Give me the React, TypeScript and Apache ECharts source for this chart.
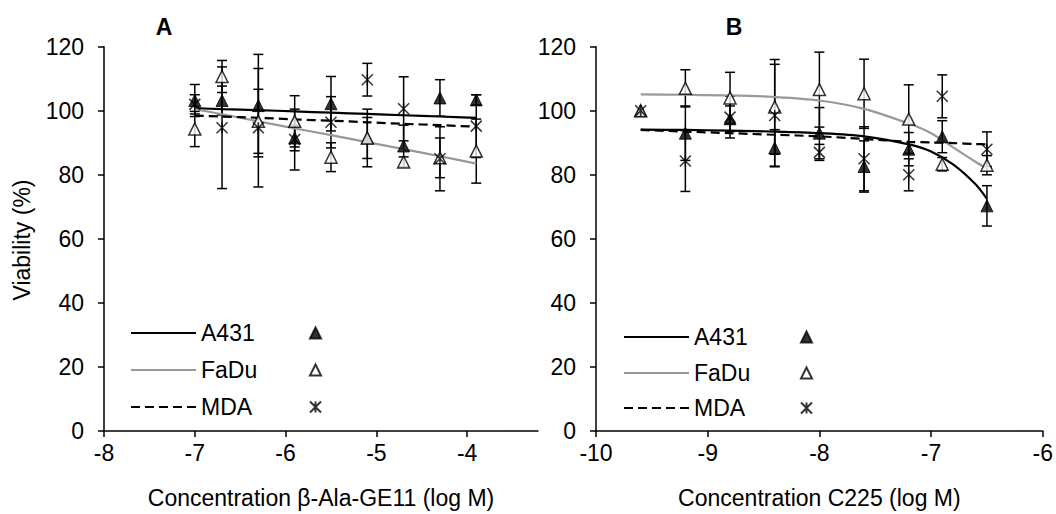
import React, { useEffect, useRef } from "react";
import * as echarts from "echarts";

const FONT = 'Arial, "Liberation Sans", Helvetica, sans-serif';

// Panel A: beta-Ala-GE11
const xA = [-7, -6.7, -6.3, -5.9, -5.5, -5.1, -4.7, -4.3, -3.9];
const a431A = [103.2, 103.2, 101.6, 91.5, 102.2, 91.5, 89, 104, 103.4];
const a431AErr = [5, 4.5, 16, 4, 8.5, 6.4, 6.5, 5.7, 1.6];
const fadA = [94.3, 110.7, 96.7, 96.7, 85.5, 91.5, 84, 85.3, 87.4];
const fadAErr = [5.5, 5, 10, 8, 4.5, 9, 1.6, 6.2, 10];
const mdaA = [102, 94.7, 94.7, 91, 96.4, 109.7, 100.6, 85, 95.2];
const mdaAErr = [3, 19, 18.5, 9.5, 8, 5.1, 10, 10, 9.8];
const fitXA = [-7, -6.7, -6.3, -5.9, -5.5, -5.1, -4.7, -4.3, -3.9];
const fitA431A = [100.8, 100.5, 100.2, 99.8, 99.4, 99.0, 98.6, 98.2, 97.8];
const fitFadA = [100.5, 98.9, 96.7, 94.5, 92.4, 90.2, 88.0, 85.8, 83.5];
const fitMdaA = [98.5, 98.2, 97.8, 97.3, 96.9, 96.4, 95.9, 95.5, 95.0];

// Panel B: C225
const xB = [-9.6, -9.2, -8.8, -8.4, -8.0, -7.6, -7.2, -6.9, -6.5];
const a431B = [100, 93, 97.5, 88.4, 93, 82.6, 88, 91.9, 70.3];
const a431BErr = [0, 8.5, 4, 5.7, 8, 8, 5.2, 5, 6.3];
const fadB = [100, 107, 104, 101.2, 106.6, 105.3, 97.4, 83.3, 83];
const fadBErr = [0, 5.8, 8, 14.8, 11.7, 10.8, 10.7, 2.1, 3];
const mdaB = [100, 84.3, 98, 98.5, 87, 85, 80, 104.5, 88];
const mdaBErr = [0, 9.5, 6.5, 16, 2.5, 10, 5, 6.7, 5.4];
const fitXB = [-9.6, -9.2, -8.8, -8.4, -8.0, -7.6, -7.2, -7.0, -6.8, -6.6, -6.5];
const fitA431B = [94.1, 94.0, 93.8, 93.5, 93.0, 92.0, 89.5, 87.3, 83.2, 77.0, 72.5];
const fitFadB = [105.1, 105.0, 104.8, 104.3, 103.2, 100.6, 96.0, 93.0, 88.5, 84.0, 82.0];
const fitMdaB = [94.0, 93.5, 93.0, 92.5, 92.0, 91.2, 90.3, 90.1, 89.9, 89.6, 89.5];

const ticksA = [-8, -7, -6, -5, -4];
const ticksB = [-10, -9, -8, -7, -6];
const yTicks = [0, 20, 40, 60, 80, 100, 120];

const names = ["A431", "FaDu", "MDA"];
const markerNames = ["A431 data", "FaDu data", "MDA data"];
const titleA = "Concentration β-Ala-GE11 (log M)";
const titleB = "Concentration C225 (log M)";
const yTitle = "Viability (%)";

const GRAY = "#999999";
const STAR = "path://M0,0L10,10M10,0L0,10M5,0L5,10";

const zip = (xs: number[], ys: number[]) => xs.map((x, i) => [x, ys[i]]);
const zip3 = (xs: number[], ys: number[], es: number[]) => xs.map((x, i) => [x, ys[i], es[i]]);

function errSeries(data: number[][], axis: number) {
  return {
    type: "custom",
    xAxisIndex: axis,
    yAxisIndex: axis,
    z: 2,
    silent: true,
    encode: { x: 0, y: 1 },
    data,
    renderItem: (params: any, api: any) => {
      const x = api.value(0);
      const y = api.value(1);
      const e = api.value(2);
      if (!e) return { type: "group", children: [] };
      const top = api.coord([x, y + e]);
      const bot = api.coord([x, y - e]);
      const hw = 5;
      const st = { stroke: "#000", lineWidth: 1.5 };
      return {
        type: "group",
        children: [
          { type: "line", shape: { x1: top[0], y1: top[1], x2: bot[0], y2: bot[1] }, style: st },
          { type: "line", shape: { x1: top[0] - hw, y1: top[1], x2: top[0] + hw, y2: top[1] }, style: st },
          { type: "line", shape: { x1: bot[0] - hw, y1: bot[1], x2: bot[0] + hw, y2: bot[1] }, style: st },
        ],
      };
    },
  };
}

const lineStyles = [
  { color: "#000", width: 2.2, type: "solid" },
  { color: GRAY, width: 2.2, type: "solid" },
  { color: "#000", width: 2.2, type: [9, 5] },
];

function fitSeries(i: number, data: number[][], axis: number) {
  const ls = lineStyles[i];
  return {
    type: "line",
    name: names[i],
    xAxisIndex: axis,
    yAxisIndex: axis,
    z: 3,
    smooth: 0.3,
    symbol: "none",
    showSymbol: false,
    data,
    itemStyle: { color: ls.color },
    lineStyle: { color: ls.color, width: ls.width, type: ls.type },
  };
}

const markerStyles = [
  { symbol: "triangle", size: 12, itemStyle: { color: "#000", borderColor: "#000", borderWidth: 1 } },
  { symbol: "triangle", size: 12, itemStyle: { color: "#fff", borderColor: "#000", borderWidth: 1.5 } },
  { symbol: STAR, size: 11, itemStyle: { color: "rgba(0,0,0,0)", borderColor: "#000", borderWidth: 1.5 } },
];

function markerSeries(i: number, data: number[][], axis: number) {
  const m = markerStyles[i];
  return {
    type: "scatter",
    name: markerNames[i],
    xAxisIndex: axis,
    yAxisIndex: axis,
    z: 4 + i,
    symbol: m.symbol,
    symbolSize: m.size,
    data,
    itemStyle: m.itemStyle,
  };
}

function legendRow(name: string, left: number, center: number, marker: boolean) {
  const base: any = {
    show: true,
    left,
    top: center - 13,
    padding: 0,
    orient: "horizontal",
    data: [name],
    itemWidth: marker ? 11 : 65,
    itemHeight: marker ? 11 : 14,
    itemGap: 0,
    selectedMode: false,
    formatter: marker ? () => " " : (n: string) => n,
    textStyle: { fontSize: 23, fontFamily: FONT, color: "#000", lineHeight: 26, padding: 0 },
  };
  if (!marker) {
    base.itemStyle = { color: "rgba(0,0,0,0)", borderWidth: 0, opacity: 0 };
    base.lineStyle = { width: 2 };
  }
  return base;
}

function xAxisCfg(idx: number, min: number, max: number, ticks: number[], name: string) {
  return {
    type: "value",
    gridIndex: idx,
    min,
    max,
    interval: 1,
    name,
    nameLocation: "middle",
    nameGap: 55,
    nameTextStyle: { fontSize: 23, fontFamily: FONT, color: "#000" },
    axisLine: { show: true, onZero: false, lineStyle: { color: "#000", width: 1.5 } },
    axisTick: { show: true, inside: false, length: 6, customValues: ticks, lineStyle: { color: "#000", width: 1.5 } },
    axisLabel: {
      show: true,
      customValues: ticks,
      margin: 10,
      fontSize: 23,
      fontFamily: FONT,
      color: "#000",
      formatter: (v: number) => String(v),
    },
    splitLine: { show: false },
  };
}

function yAxisCfg(idx: number) {
  return {
    type: "value",
    gridIndex: idx,
    min: 0,
    max: 120,
    interval: 20,
    axisLine: { show: true, lineStyle: { color: "#000", width: 1.5 } },
    axisTick: { show: true, inside: false, length: 6, lineStyle: { color: "#000", width: 1.5 } },
    axisLabel: {
      show: true,
      margin: 20,
      fontSize: 23,
      fontFamily: FONT,
      color: "#000",
      customValues: yTicks,
    },
    splitLine: { show: false },
  };
}

export default function App() {
  const ref = useRef<HTMLDivElement>(null);
  useEffect(() => {
    if (!ref.current) return;
    const chart = echarts.init(ref.current, null, { renderer: "svg" });
    const option: any = {
      animation: false,
      backgroundColor: "#fff",
      textStyle: { fontFamily: FONT },
      grid: [
        { left: 104, top: 46.7, width: 434, height: 386.6 },
        { left: 596, top: 46.7, width: 447.3, height: 386.6 },
      ],
      xAxis: [
        xAxisCfg(0, -8, -3.22, ticksA, titleA),
        xAxisCfg(1, -10, -6, ticksB, titleB),
      ],
      yAxis: [yAxisCfg(0), yAxisCfg(1)],
      legend: [
        legendRow(names[0], 130, 333, false),
        legendRow(names[1], 130, 370, false),
        legendRow(names[2], 130, 407, false),
        legendRow(markerNames[0], 309, 333, true),
        legendRow(markerNames[1], 309, 370, true),
        legendRow(markerNames[2], 309, 407, true),
        legendRow(names[0], 623, 337, false),
        legendRow(names[1], 623, 373, false),
        legendRow(names[2], 623, 408, false),
        legendRow(markerNames[0], 800, 337, true),
        legendRow(markerNames[1], 800, 373, true),
        legendRow(markerNames[2], 800, 408, true),
      ],
      graphic: [
        {
          type: "text",
          x: 22,
          y: 240,
          rotation: Math.PI / 2,
          style: {
            text: yTitle,
            font: `23px ${FONT}`,
            fill: "#000",
            align: "center",
            verticalAlign: "middle",
            textAlign: "center",
            textVerticalAlign: "middle",
          },
        },
        {
          type: "text",
          x: 164,
          y: 27,
          style: {
            text: "A",
            font: `bold 23px ${FONT}`,
            fill: "#000",
            align: "center",
            verticalAlign: "middle",
            textAlign: "center",
            textVerticalAlign: "middle",
          },
        },
        {
          type: "text",
          x: 734,
          y: 27,
          style: {
            text: "B",
            font: `bold 23px ${FONT}`,
            fill: "#000",
            align: "center",
            verticalAlign: "middle",
            textAlign: "center",
            textVerticalAlign: "middle",
          },
        },
      ],
      series: [
        errSeries(zip3(xA, a431A, a431AErr), 0),
        errSeries(zip3(xA, fadA, fadAErr), 0),
        errSeries(zip3(xA, mdaA, mdaAErr), 0),
        fitSeries(0, zip(fitXA, fitA431A), 0),
        fitSeries(1, zip(fitXA, fitFadA), 0),
        fitSeries(2, zip(fitXA, fitMdaA), 0),
        markerSeries(0, zip(xA, a431A), 0),
        markerSeries(1, zip(xA, fadA), 0),
        markerSeries(2, zip(xA, mdaA), 0),
        errSeries(zip3(xB, a431B, a431BErr), 1),
        errSeries(zip3(xB, fadB, fadBErr), 1),
        errSeries(zip3(xB, mdaB, mdaBErr), 1),
        fitSeries(0, zip(fitXB, fitA431B), 1),
        fitSeries(1, zip(fitXB, fitFadB), 1),
        fitSeries(2, zip(fitXB, fitMdaB), 1),
        markerSeries(0, zip(xB, a431B), 1),
        markerSeries(1, zip(xB, fadB), 1),
        markerSeries(2, zip(xB, mdaB), 1),
      ],
    };
    chart.setOption(option);
    return () => chart.dispose();
  }, []);
  return (
    <div
      ref={ref}
      style={{ position: "fixed", left: 0, top: 0, width: 1056, height: 514, background: "#fff" }}
    />
  );
}
